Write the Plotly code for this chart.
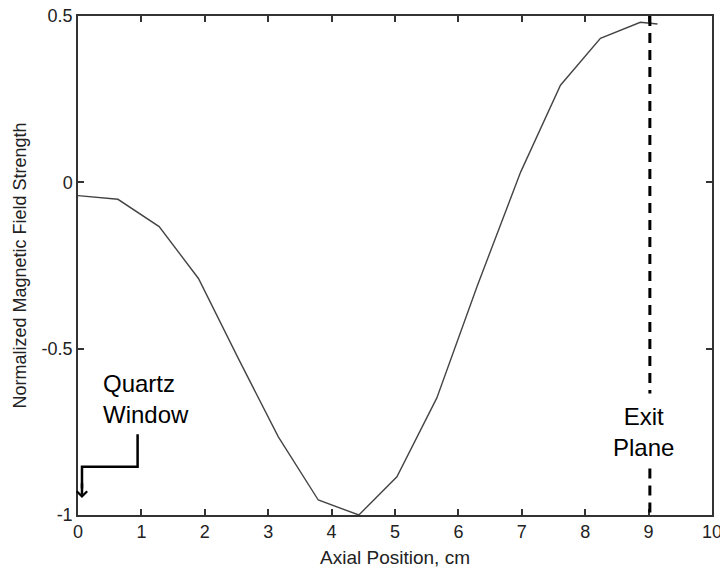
import plotly.graph_objects as go

# Data
axial_position_cm = [0.0, 0.63, 1.28, 1.90, 2.53, 3.16, 3.79, 4.43, 5.03, 5.66, 6.30, 6.98, 7.61, 8.24, 8.87, 9.14]
field_strength = [-0.040, -0.051, -0.133, -0.289, -0.53, -0.765, -0.955, -1.0, -0.885, -0.648, -0.31, 0.030, 0.292, 0.433, 0.481, 0.476]

x_ticks = [0, 1, 2, 3, 4, 5, 6, 7, 8, 9, 10]
y_ticks = [-1, -0.5, 0, 0.5]
y_tick_labels = ["-1", "-0.5", "0", "0.5"]

exit_plane_x = 9.02
quartz_text = "Quartz<br>Window"
exit_text = "Exit<br>Plane"

FONT = "Liberation Sans, Arial, sans-serif"
AXIS_COLOR = "#333333"
TEXT_COLOR = "#222222"

fig = go.Figure()
fig.add_trace(go.Scatter(
    x=axial_position_cm, y=field_strength, mode="lines",
    line=dict(color="#444444", width=1.4), showlegend=False, hoverinfo="x+y",
))

# Exit plane dashed line (with gap for label)
fig.add_shape(type="line", xref="x", yref="y", x0=exit_plane_x, x1=exit_plane_x, y0=0.5, y1=-0.635,
              line=dict(color="black", width=3, dash="10px,7px"))
fig.add_shape(type="line", xref="x", yref="y", x0=exit_plane_x, x1=exit_plane_x, y0=-0.86, y1=-1.0,
              line=dict(color="black", width=3, dash="10px,7px"))

# Quartz window bent arrow
fig.add_shape(type="path", xref="x", yref="y",
              path="M 0.94,-0.757 L 0.94,-0.855 L 0.063,-0.855 L 0.063,-0.92",
              line=dict(color="black", width=2.5))
fig.add_annotation(x=0.063, y=-0.949, ax=0.063, ay=-0.90, xref="x", yref="y", axref="x", ayref="y",
                   showarrow=True, arrowhead=4, arrowsize=0.8, arrowwidth=2.5, arrowcolor="black", text="")

fig.add_annotation(x=0.36, y=-0.65, xref="x", yref="y", text=quartz_text, showarrow=False,
                   xanchor="left", yanchor="middle", align="left",
                   font=dict(family=FONT, size=24, color="black"))
fig.add_annotation(x=8.92, y=-0.75, xref="x", yref="y", text=exit_text, showarrow=False,
                   xanchor="center", yanchor="middle", align="center",
                   font=dict(family=FONT, size=24, color="black"))

fig.update_layout(
    width=720, height=569,
    margin=dict(l=78, r=8, t=16, b=54, autoexpand=False),
    paper_bgcolor="white", plot_bgcolor="white",
    font=dict(family=FONT, color=TEXT_COLOR),
)
fig.update_xaxes(
    range=[0, 10], tickvals=x_ticks, ticks="inside", ticklen=6, tickwidth=1.5, tickcolor=AXIS_COLOR,
    showline=True, linecolor=AXIS_COLOR, linewidth=1.5, mirror="ticks", showgrid=False, zeroline=False,
    automargin=False, ticklabeloverflow="allow",
    tickfont=dict(family=FONT, size=18, color=TEXT_COLOR),
    title=dict(text="Axial Position, cm", font=dict(family=FONT, size=19, color=TEXT_COLOR), standoff=9),
)
fig.update_yaxes(
    range=[-1, 0.5], tickvals=y_ticks, ticktext=y_tick_labels, ticks="inside", ticklen=6, tickwidth=1.5,
    tickcolor=AXIS_COLOR, showline=True, linecolor=AXIS_COLOR, linewidth=1.5, mirror="ticks",
    showgrid=False, zeroline=False, automargin=False, ticklabeloverflow="allow",
    tickfont=dict(family=FONT, size=18, color=TEXT_COLOR),
    title=dict(text="Normalized Magnetic Field Strength", font=dict(family=FONT, size=18, color=TEXT_COLOR), standoff=10),
)

fig.write_html("out.html", config={"displayModeBar": False},
               post_script="document.body.style.margin='0px';document.body.style.overflow='hidden';")
